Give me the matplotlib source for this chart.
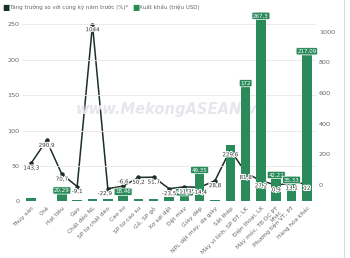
import matplotlib.pyplot as plt
import matplotlib.patheffects as pe
import numpy as np

# categories and values
categories = ['Thủy sản', 'Chè', 'Hạt tiêu', 'Gạo', 'Chất dẻo NL', 'SP từ chất dẻo',
              'Cao su', 'SP từ cao su', 'Gỗ, SP gỗ', 'Xơ sợi dệt', 'Dệt may', 'Giày dép',
              'NPL dệt may, da giày', 'Sắt thép', 'Máy vi tính, SP ĐT, LK', 'Điện thoại, LK',
              'Máy móc, TB DC PT\nkhác', 'Phương tiện VT, PT', 'Hàng hóa khác']
export = [4, 0.8, 20.29, 1.5, 3, 3, 18.46, 3.5, 3.5, 6, 17.65, 49.35, 2, 80, 172,
          267.3, 42.21, 35.33, 217.09]
export_labels = [None, None, '20,29', None, None, None, '18,46', None, None, None,
                 '17,65', '49,35', None, None, '172', '267,3', '42,21', '35,33', '217,09']
growth = [143.3, 290.9, 70.7, -9.1, 1044, -22.9, -6.6, 50.2, 51.7, -23.5, -11.3,
          -14.4, 28.8, 229.6, 81.8, 27.2, 0.9, 13.1, 12]
growth_labels = ['143,3', '290,9', '70,7', '-9,1', '1044', '-22,9', '-6,6', '50,2',
                 '51,7', '-23,5', '-11,3', '-14,4', '28,8', '229,6', '81,8', '27,2',
                 '0,9', '13,1', '12']

green = '#2a8a5a'
dark = '#1d3028'
grey = '#666666'

fig = plt.figure(figsize=(3.5, 2.58), dpi=100)
ax = fig.add_axes([0.063, 0.22, 0.84, 0.74])
ax2 = ax.twinx()
ax.set_zorder(1)
ax.patch.set_visible(False)
ax2.set_zorder(0)

x = np.arange(len(categories))
ax.bar(x, export, width=0.62, color=green, zorder=2)
for xi, v, lab in zip(x, export, export_labels):
    if lab:
        ax.text(xi, v - 1.5, lab, ha='center', va='top', fontsize=4.0, color='white',
                bbox=dict(boxstyle='round,pad=0.2', fc=green, ec='white', lw=0.5), zorder=5)

ax2.plot(x, growth, color=dark, lw=1.1, marker='o', ms=2.2, zorder=3)
for xi, v, lab in zip(x, growth, growth_labels):
    dx = -0.2 if lab == '-22,9' else 0
    yv = (v + 105) * 270 / 1243
    if lab == '-6,6':
        ax.text(xi, yv + 2.5, lab, ha='center', va='bottom', fontsize=4.0,
                color='#333333', zorder=6,
                path_effects=[pe.withStroke(linewidth=1.5, foreground='white')])
        continue
    ax.text(xi + dx, yv - 3.5, lab, ha='center', va='top',
            fontsize=4.0, color='#333333', zorder=6,
            path_effects=[pe.withStroke(linewidth=1.5, foreground='white')])

ax.set_ylim(0, 270)
ax2.set_ylim(-105, 1138)
ax.set_xlim(-0.6, len(categories) - 0.4)
ax.set_yticks(range(0, 251, 50))
ax2.set_yticks(range(0, 1001, 200))
ax.grid(axis='y', color='#e6e6e6', lw=0.6, zorder=0)
ax.set_axisbelow(True)

ax.set_xticks(x)
ax.set_xticklabels(categories, rotation=45, ha='right', rotation_mode='anchor',
                   fontsize=4.2, color=grey, linespacing=0.9)
for a in (ax, ax2):
    a.tick_params(length=0, labelsize=4.6, colors=grey, pad=2)
    for s in a.spines.values():
        s.set_visible(False)
ax.tick_params(axis='x', labelsize=4.2, pad=3)

# legend at the top
fig.text(0.006, 0.988, '■', color=dark, fontsize=5.5, va='top')
fig.text(0.026, 0.984, 'Tăng trưởng so với cùng kỳ năm trước (%)*', color=grey,
         fontsize=4.0, va='top')
fig.text(0.378, 0.988, '■', color=green, fontsize=5.5, va='top')
fig.text(0.398, 0.984, 'Xuất khẩu (triệu USD)', color=grey, fontsize=4.0, va='top')

# watermark
fig.text(0.49, 0.574, 'www.MekongASEAN.vn', color='#e6e6ee', fontsize=10.6,
         fontweight='bold', style='italic', ha='center', va='center', zorder=0)

fig.add_artist(plt.Line2D([0.982, 0.982], [0, 1], color='#dddddd', lw=0.8))

fig.savefig('out.png', dpi=100)
